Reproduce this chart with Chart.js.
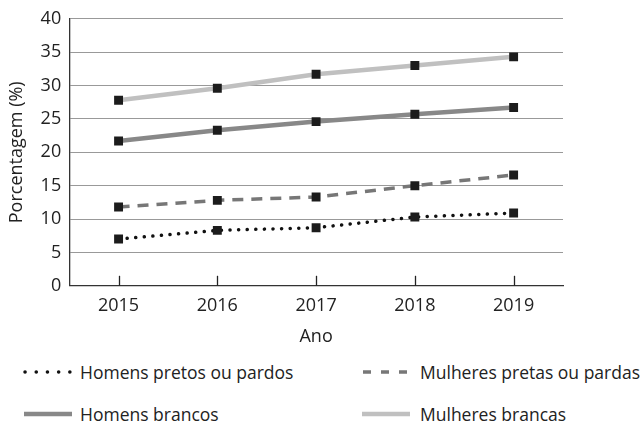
<!DOCTYPE html>
<html>
<head>
<meta charset="utf-8">
<script src="https://cdn.jsdelivr.net/npm/chart.js@4.4.1/dist/chart.umd.min.js"></script>
<style>
  body { margin: 0; background: #fff; font-family: "Open Sans", sans-serif; color: #222; }
  #wrap { position: relative; width: 643px; height: 356px; }
  .leg { position: absolute; font-size: 17.5px; display: flex; align-items: center; white-space: nowrap; height: 26px; }
  .leg svg { margin-right: 8px; }
</style>
</head>
<body>
<div id="wrap"><canvas id="myChart"></canvas></div>
<div class="leg" style="left:22px; top:359px;">
  <svg width="50" height="8"><line x1="3" y1="4" x2="48" y2="4" stroke="#111" stroke-width="3.5" stroke-linecap="round" stroke-dasharray="0.1,11.1"/></svg>Homens pretos ou pardos
</div>
<div class="leg" style="left:362px; top:359px;">
  <svg width="50" height="8"><line x1="1" y1="4" x2="49" y2="4" stroke="#777" stroke-width="3.5" stroke-dasharray="8,10"/></svg>Mulheres pretas ou pardas
</div>
<div class="leg" style="left:22px; top:401px;">
  <svg width="50" height="8"><line x1="2" y1="4" x2="50" y2="4" stroke="#888" stroke-width="4.5"/></svg>Homens brancos
</div>
<div class="leg" style="left:362px; top:401px;">
  <svg width="50" height="8"><line x1="0" y1="4" x2="48" y2="4" stroke="#c0c0c0" stroke-width="4.5"/></svg>Mulheres brancas
</div>
<script>
const anos = ['2015', '2016', '2017', '2018', '2019'];
const homensPretos = [7.0, 8.3, 8.7, 10.3, 10.9];
const mulheresPretas = [11.8, 12.8, 13.3, 15.0, 16.6];
const homensBrancos = [21.7, 23.3, 24.6, 25.7, 26.7];
const mulheresBrancas = [27.8, 29.6, 31.7, 33.0, 34.3];

// small tick marks drawn inside the plot at each year
const innerTicks = {
  id: 'innerTicks',
  afterDraw(chart) {
    const ctx = chart.ctx, x = chart.scales.x, bottom = chart.chartArea.bottom;
    ctx.save();
    ctx.strokeStyle = '#222';
    ctx.lineWidth = 1.3;
    anos.forEach((a, i) => {
      const px = Math.round(x.getPixelForValue(i)) + 0.5;
      ctx.beginPath();
      ctx.moveTo(px, bottom);
      ctx.lineTo(px, bottom - 10);
      ctx.stroke();
    });
    ctx.restore();
  }
};

const mk = (data, color, width, dash, cap) => ({
  data: data,
  borderColor: color,
  borderWidth: width,
  borderDash: dash,
  borderCapStyle: cap,
  pointStyle: 'rect',
  pointRadius: 6.3,
  pointBackgroundColor: '#1c1c1c',
  pointBorderWidth: 0,
  tension: 0
});

new Chart(document.getElementById('myChart'), {
  type: 'line',
  data: {
    labels: anos,
    datasets: [
      mk(homensPretos, '#111', 3.5, [0.1, 8.5], 'round'),
      mk(mulheresPretas, '#777', 3.5, [11, 8], 'butt'),
      mk(homensBrancos, '#888', 4.5, [], 'butt'),
      mk(mulheresBrancas, '#c0c0c0', 4.5, [], 'butt')
    ]
  },
  options: {
    responsive: true,
    maintainAspectRatio: false,
    animation: false,
    layout: { padding: { left: 2, right: 80, top: 9, bottom: 4 } },
    plugins: { legend: { display: false }, tooltip: { enabled: false } },
    scales: {
      x: {
        offset: true,
        grid: { display: false, drawTicks: false },
        border: { display: true, color: '#333', width: 1.3 },
        ticks: { color: '#222', font: { family: 'Open Sans', size: 18 }, padding: 9 },
        title: { display: true, text: 'Ano', color: '#222', font: { family: 'Open Sans', size: 18 }, padding: { top: 1 } }
      },
      y: {
        min: 0,
        max: 40,
        ticks: { stepSize: 5, color: '#222', font: { family: 'Open Sans', size: 18 }, padding: 8 },
        grid: { color: '#999', lineWidth: 1, drawTicks: false },
        border: { display: true, color: '#333', width: 1.3 },
        title: { display: true, text: 'Porcentagem (%)', color: '#222', font: { family: 'Open Sans', size: 18 }, padding: { bottom: 5 } }
      }
    }
  },
  plugins: [innerTicks]
});
</script>
</body>
</html>
